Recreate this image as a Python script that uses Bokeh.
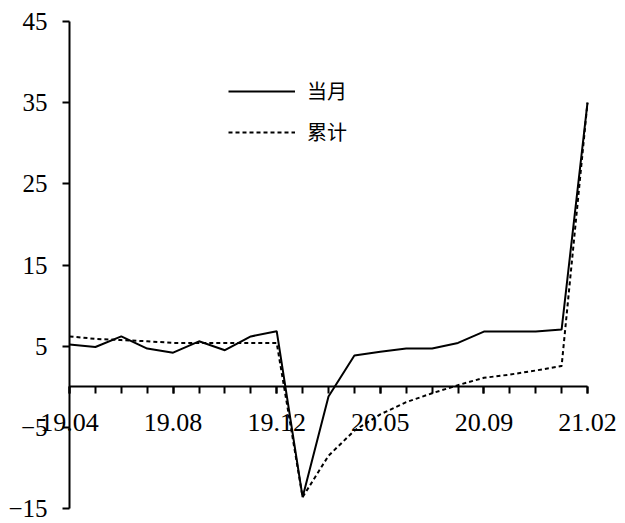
from bokeh.plotting import figure
from bokeh.models import FixedTicker, LinearAxis, Legend, LegendItem, Range1d
from bokeh.embed import file_html
from bokeh.resources import INLINE

months = ["19.04", "19.05", "19.06", "19.07", "19.08", "19.09", "19.10", "19.11", "19.12",
          "20.02", "20.03", "20.04", "20.05", "20.06", "20.07", "20.08", "20.09", "20.10",
          "20.11", "20.12", "21.02"]
monthly = [5.2, 4.9, 6.2, 4.7, 4.2, 5.6, 4.5, 6.2, 6.85,
           -13.6, -1.2, 3.85, 4.3, 4.7, 4.7, 5.4, 6.8, 6.8, 6.8, 7.05, 35.0]
cumulative = [6.2, 5.9, 5.75, 5.6, 5.4, 5.4, 5.4, 5.4, 5.4,
              -13.6, -8.5, -5.4, -3.4, -1.9, -0.8, 0.2, 1.1, 1.5, 2.0, 2.55, 35.0]
label_every = 4
y_ticks = [-15, -5, 5, 15, 25, 35, 45]
names = ["当月", "累计"]

idx = list(range(len(months)))
n = len(months) - 1

W, H = 625, 523
x0_px, x1_px = 69, 587
y_top_px, y_bot_px = 21, 508
ppx = (x1_px - x0_px) / n
ppy = (y_bot_px - y_top_px) / (y_ticks[-1] - y_ticks[0])

p = figure(width=W, height=H, output_backend="svg", toolbar_location=None,
           x_range=Range1d(-x0_px / ppx, n + (W - x1_px) / ppx),
           y_range=Range1d(y_ticks[0] - (H - y_bot_px) / ppy, y_ticks[-1] + y_top_px / ppy),
           x_axis_type=None, y_axis_type=None,
           min_border_left=0, min_border_right=0, min_border_top=0, min_border_bottom=0)
p.outline_line_color = None
p.grid.visible = False
p.background_fill_color = "white"
p.border_fill_color = "white"

FONT = "Liberation Serif"

# y axis at x = 0
ya = LinearAxis(fixed_location=0, bounds=(y_ticks[0], y_ticks[-1]),
                ticker=FixedTicker(ticks=y_ticks))
ya.major_label_text_font = FONT
ya.major_label_text_font_size = "25px"
ya.major_label_text_color = "black"
ya.major_tick_in = 0
ya.major_tick_out = 7
ya.minor_tick_line_color = None
ya.axis_line_width = 2
ya.major_tick_line_width = 2
ya.major_label_standoff = 15
p.add_layout(ya, "left")

# x axis at y = 0
major = idx[::label_every]
xa = LinearAxis(fixed_location=0, bounds=(0, n),
                ticker=FixedTicker(ticks=major, minor_ticks=idx),
                major_label_overrides={i: months[i] for i in major})
xa.major_label_text_font = FONT
xa.major_label_text_font_size = "26px"
xa.major_label_text_color = "black"
xa.major_tick_in = 0
xa.major_tick_out = 7
xa.minor_tick_in = 0
xa.minor_tick_out = 7
xa.axis_line_width = 2
xa.major_tick_line_width = 2
xa.minor_tick_line_width = 2
xa.major_label_standoff = 20
p.add_layout(xa, "below")

r1 = p.line(idx, monthly, line_color="black", line_width=2)
r2 = p.line(idx, cumulative, line_color="black", line_width=2, line_dash="4 3")

legend = Legend(items=[LegendItem(label=names[0], renderers=[r1]),
                       LegendItem(label=names[1], renderers=[r2])],
                location=(228, 377), orientation="vertical",
                glyph_width=67, glyph_height=20, label_height=20, spacing=12,
                label_standoff=12, padding=0, margin=0,
                border_line_color=None, background_fill_alpha=0,
                label_text_font="Noto Sans CJK SC", label_text_font_size="20px",
                label_text_color="black")
p.add_layout(legend, "center")

open("out.html", "w").write(file_html(p, INLINE))
